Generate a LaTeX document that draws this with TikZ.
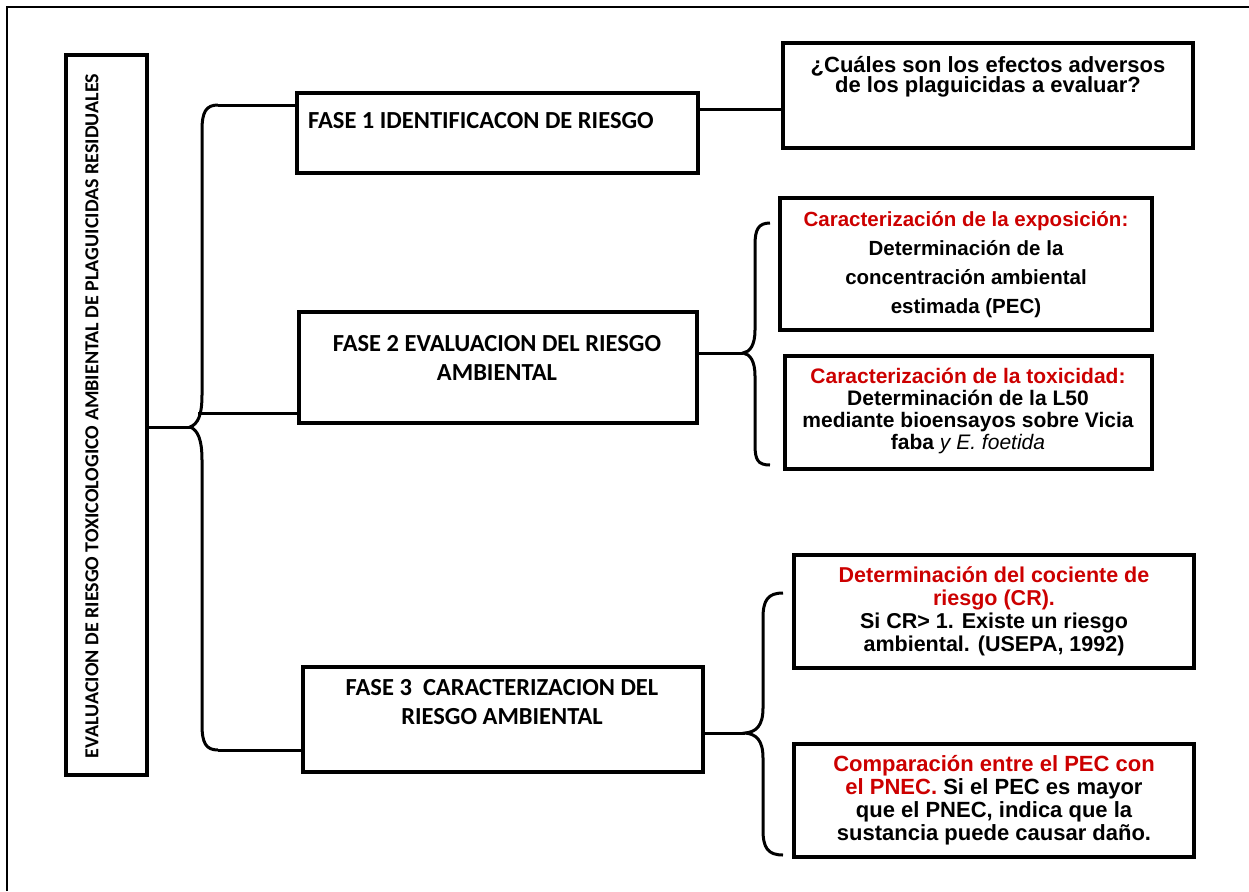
\documentclass[tikz,border=0pt]{standalone}
\usepackage{fontspec}
\usepackage{graphicx}
\setmainfont{Liberation Sans}
\newfontfamily\arialfont{Liberation Sans}
\newfontfamily\calfont{Carlito}
\definecolor{cred}{RGB}{204,0,0}
\tikzset{
  box/.style={draw, line width=3.4pt, inner sep=0pt},
  conn/.style={line width=3pt},
  frame/.style={line width=2pt},
  fasetext/.style={inner sep=0pt, align=center, font=\calfont\bfseries\fontsize{24.5}{29}\selectfont},
  rtext/.style={anchor=north, align=center, inner sep=0pt},
}
\newcommand{\rf}[2]{\arialfont\bfseries\fontsize{#1}{#2}\selectfont}
\begin{document}
\begin{tikzpicture}[x=1pt, y=-1pt]
\useasboundingbox (0,0) rectangle (1249,891);
% outer frame (top and left)
\draw[frame] (7,891) -- (7,7) -- (1249,7);

% boxes
\node[box, minimum width=81pt, minimum height=720pt] (L) at (106.5,415) {};
\node[box, minimum width=401pt, minimum height=80pt] (f1) at (497.5,133) {};
\node[box, minimum width=398pt, minimum height=111pt] (f2) at (498,367.5) {};
\node[box, minimum width=400pt, minimum height=105pt] (f3) at (503,719.5) {};
\node[box, minimum width=410pt, minimum height=105pt] (q) at (988,95.5) {};
\node[box, minimum width=372pt, minimum height=132pt] (e2a) at (966,264) {};
\node[box, minimum width=367pt, minimum height=113pt] (e2b) at (968.5,412.5) {};
\node[box, minimum width=400pt, minimum height=113pt] (e3a) at (994,611.5) {};
\node[box, minimum width=400pt, minimum height=113pt] (e3b) at (994,800.5) {};

% texts
\node[rotate=90, inner sep=0pt] (tL) at (92,416)
  {\resizebox{684pt}{13pt}{\calfont\bfseries EVALUACION DE RIESGO TOXICOLOGICO AMBIENTAL DE PLAGUICIDAS RESIDUALES}};
\node[fasetext, anchor=north west] (t1) at (308,112) {FASE 1 IDENTIFICACON DE RIESGO};
\node[fasetext, anchor=north] (t2) at (497,335) {FASE 2 EVALUACION DEL RIESGO\\AMBIENTAL};
\node[fasetext, anchor=north] (t3) at (502,679) {FASE 3\ \ CARACTERIZACION DEL\\RIESGO AMBIENTAL};

\node[rtext, font=\rf{22}{20}] (tq) at (988,56)
  {¿Cuáles son los efectos adversos\\de los plaguicidas a evaluar?};
\node[rtext, font=\rf{20.5}{29}] (t2a) at (966,211)
  {\textcolor{cred}{Caracterización de la exposición:}\\Determinación de la\\concentración ambiental\\estimada (PEC)};
\node[rtext, font=\rf{21}{22}] (t2b) at (968,368)
  {\textcolor{cred}{Caracterización de la toxicidad:}\\Determinación de la L50\\mediante bioensayos sobre Vicia\\faba {\mdseries\itshape y E. foetida}};
\node[rtext, font=\rf{21.5}{23}] (t3a) at (994,567)
  {\textcolor{cred}{Determinación del cociente de}\\\textcolor{cred}{riesgo (CR).}\\Si CR> 1. Existe un riesgo\\ambiental. (USEPA, 1992)};
\node[rtext, font=\rf{22}{23}] (t3b) at (994,755)
  {\textcolor{cred}{Comparación entre el PEC con}\\\textcolor{cred}{el PNEC.} Si el PEC es mayor\\que el PNEC, indica que la\\sustancia puede causar daño.};

% main brace
\coordinate (m) at (190,427);
\coordinate (b1) at (218,105);
\coordinate (b2) at (198,413);
\coordinate (b3) at (218,750);
\draw[conn] (L.east |- m) -- (m);
\draw[conn] (b1) .. controls (206,105) and (202,112) .. (202,130) -- (202,395)
  .. controls (202,415) and (198,424) .. (m)
  .. controls (198,430) and (202,440) .. (202,460) -- (202,725)
  .. controls (202,743) and (206,750) .. (b3);
\draw[conn] (b1) -- (b1 -| f1.west);
\draw[conn] (b2) -- (b2 -| f2.west);
\draw[conn] (b3) -- (b3 -| f3.west);

% fase 1 to question
\coordinate (c1) at ([yshift=-18pt]f1.north east);
\draw[conn] (c1) -- (c1 -| q.west);

% brace 2
\coordinate (t2tip) at (743,353);
\draw[conn] (f2.east |- t2tip) -- (t2tip);
\draw[conn] (770,223) .. controls (758,223) and (755,230) .. (755,245) -- (755,330)
  .. controls (755,345) and (750,352) .. (t2tip)
  .. controls (750,354) and (755,361) .. (755,376) -- (755,445)
  .. controls (755,460) and (758,465) .. (770,465);

% brace 3
\coordinate (t3tip) at (745,733);
\draw[conn] (f3.east |- t3tip) -- (t3tip);
\draw[conn] (783,593) .. controls (768,593) and (763,600) .. (763,618) -- (763,708)
  .. controls (763,726) and (756,732) .. (t3tip)
  .. controls (756,734) and (763,740) .. (763,758) -- (763,830)
  .. controls (763,848) and (768,855) .. (783,855);
\end{tikzpicture}
\end{document}
